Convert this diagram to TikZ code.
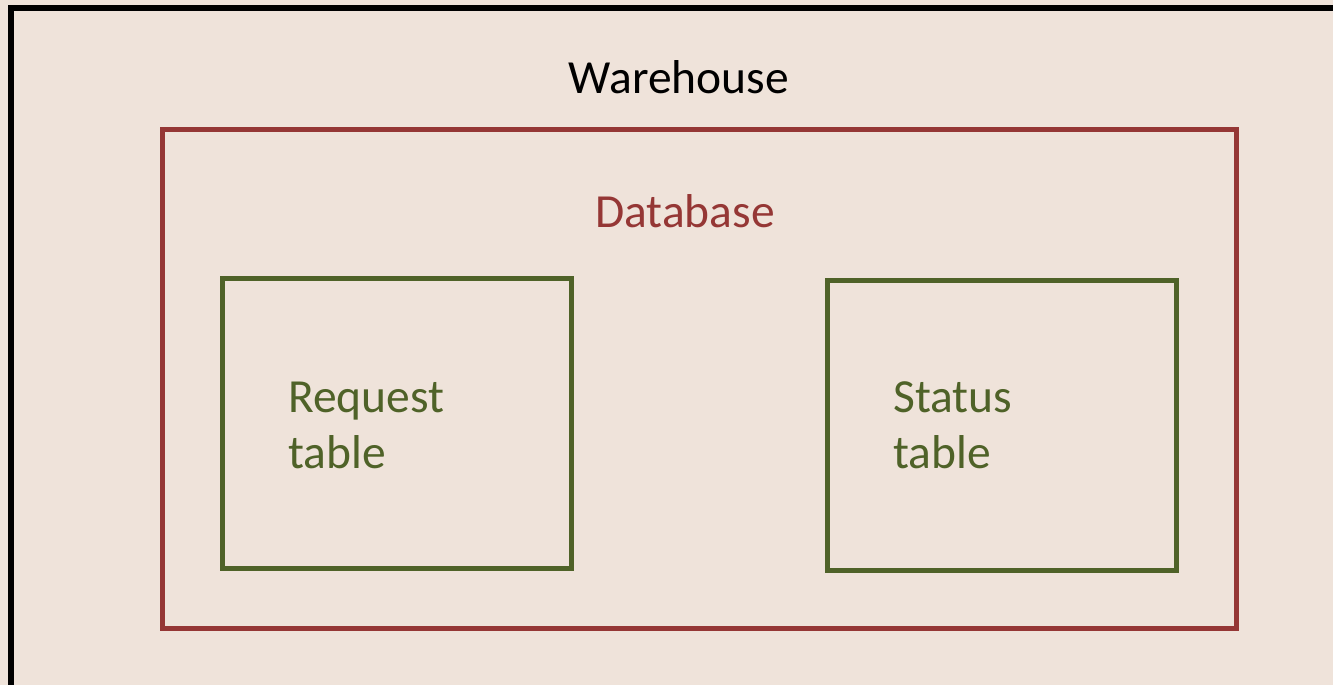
\documentclass[tikz,border=0pt]{standalone}
\usepackage{fontspec}
\setmainfont{Carlito}
\definecolor{bgc}{HTML}{EFE3DA}
\definecolor{dbred}{HTML}{953735}
\definecolor{tblgreen}{HTML}{4F6228}
\tikzset{
  outerbox/.style={draw=black, line width=6pt},
  dbbox/.style={draw=dbred, line width=5pt},
  tblbox/.style={draw=tblgreen, line width=5pt},
  lbl/.style={inner sep=0pt, font=\fontsize{47.5}{55}\selectfont},
}
\begin{document}
\begin{tikzpicture}[x=1pt,y=-1pt]
\useasboundingbox (0,0) rectangle (1333,685);
\fill[bgc] (0,0) rectangle (1333,685);
\draw[outerbox] (11,8) rectangle (1350,700);
\draw[dbbox] (162,129) rectangle (1236,628);
\draw[tblbox] (222,278) rectangle (571,568);
\draw[tblbox] (827,280) rectangle (1176,570);
\node[lbl, anchor=base, text=black] (wh) at (679,93) {Warehouse};
\node[lbl, anchor=base, text=dbred] (db) at (685,227) {Database};
\node[lbl, anchor=base west, text=tblgreen] (rq1) at (288,412) {Request};
\node[lbl, anchor=base west, text=tblgreen] (rq2) at (288,468) {table};
\node[lbl, anchor=base west, text=tblgreen] (st1) at (893,412) {Status};
\node[lbl, anchor=base west, text=tblgreen] (st2) at (893,468) {table};
\end{tikzpicture}
\end{document}
